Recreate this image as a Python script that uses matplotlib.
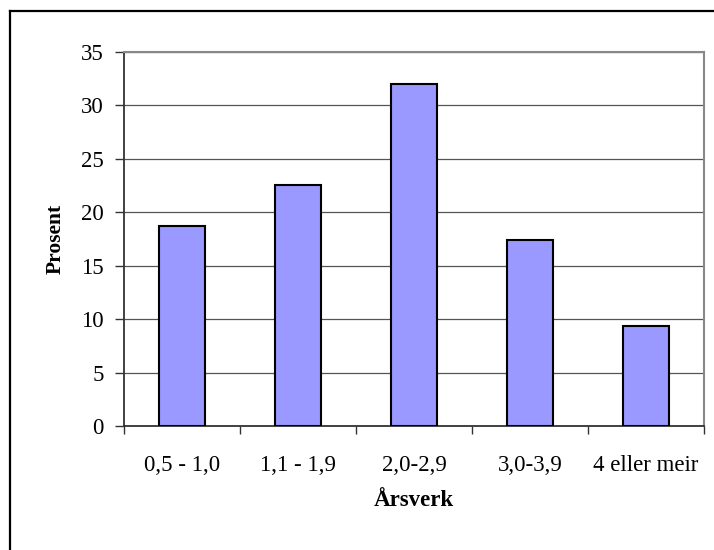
import matplotlib.pyplot as plt
import numpy as np
from matplotlib.lines import Line2D

# årsverk-grupper og prosentdel
kategoriar = ["0,5 - 1,0", "1,1 - 1,9", "2,0-2,9", "3,0-3,9", "4 eller meir"]
prosent = [18.7, 22.6, 32.0, 17.4, 9.4]

plt.rcParams['font.family'] = ['Liberation Serif', 'DejaVu Serif']

fig = plt.figure(figsize=(7.14, 5.5), dpi=100)
ax = fig.add_axes([124 / 714, 1 - 426 / 550, 580 / 714, 374 / 550])

x = np.arange(len(kategoriar))
ax.bar(x, prosent, width=0.4, color='#9999FF', edgecolor='black', linewidth=1.5, zorder=3)

ax.set_xlim(-0.5, len(kategoriar) - 0.5)
ax.set_ylim(0, 35)
ax.set_yticks(np.arange(0, 36, 5))
ax.yaxis.grid(True, color='#555555', linewidth=0.9, zorder=0)

# kategori-etikettar i midten, tick-strekar mellom gruppene
ax.set_xticks(x)
ax.set_xticklabels(kategoriar)
ax.tick_params(axis='x', length=0, pad=21, labelsize=16.5)
ax.set_xticks(np.arange(-0.5, len(kategoriar)), minor=True)
ax.tick_params(axis='x', which='minor', length=6, width=1, color='#333333')
ax.tick_params(axis='y', length=6.5, width=1, color='#333333', pad=8, labelsize=16.5)

for side in ['top', 'right']:
    ax.spines[side].set_color('#888888')
    ax.spines[side].set_linewidth(1.5)
for side in ['left', 'bottom']:
    ax.spines[side].set_color('#333333')
    ax.spines[side].set_linewidth(1.3)

ax.set_ylabel('Prosent', fontsize=15.5, fontweight='bold', labelpad=11)
ax.set_xlabel('Årsverk', fontsize=16.5, fontweight='bold', labelpad=10)

# ramme rundt diagrammet (øvre og venstre kant)
fig.add_artist(Line2D([10 / 714, 10 / 714], [0, 1 - 11 / 550], transform=fig.transFigure,
                      color='black', linewidth=1.6))
fig.add_artist(Line2D([10 / 714, 1], [1 - 11 / 550, 1 - 11 / 550], transform=fig.transFigure,
                      color='black', linewidth=1.6))

fig.savefig('out.png', dpi=100)
